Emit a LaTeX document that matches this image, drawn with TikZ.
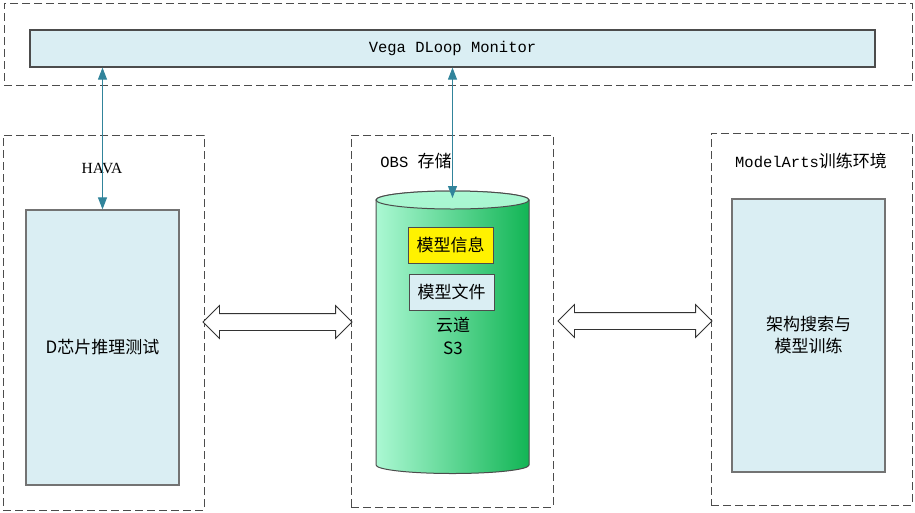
\documentclass[tikz,border=0pt]{standalone}
\usepackage{fontspec}
\newfontfamily\cnfont{Noto Sans CJK SC}
\newfontfamily\monofont{Liberation Mono}
\newfontfamily\serifont{Liberation Serif}
\usetikzlibrary{arrows.meta,shapes.arrows}

\definecolor{boxblue}{HTML}{DAEEF3}
\definecolor{linkteal}{HTML}{31849B}
\definecolor{mintlight}{HTML}{ABF8D3}
\definecolor{mintmid}{HTML}{8EE6B9}
\definecolor{mintdark}{HTML}{12B555}

\tikzstyle{group} = [draw=black!70, dash pattern=on 8pt off 4pt, line width=1pt, inner sep=0pt]
\tikzstyle{panel} = [draw=black!55, fill=boxblue, line width=1.2pt, inner sep=0pt]
\tikzstyle{tag} = [draw=black!70, line width=1pt, inner sep=0pt, minimum width=85pt, minimum height=36pt]

\begin{document}
\begin{tikzpicture}[x=1pt, y=1pt]
  \tikzset{link/.style={linkteal, line width=1pt, {Triangle[length=12pt,width=9pt]}-{Triangle[length=12pt,width=9pt]}},
    flow/.style={double arrow, draw=black!80, fill=white, line width=0.8pt, inner xsep=0pt, inner ysep=8pt,
      double arrow head extend=8pt, double arrow tip angle=90},
    cn/.style={font=\fontsize{17}{22}\cnfont},
    mono/.style={font=\fontsize{15.5}{18}\monofont}}

  \useasboundingbox (0,0) rectangle (915,-512);

  % monitor
  \node (monitorbox) [group, minimum width=908pt, minimum height=82pt] at (458,-44) {};
  \node (monitor) [panel, draw=black!70, minimum width=845pt, minimum height=37pt, mono] at (452.5,-48.5)
    {Vega DLoop Monitor};

  % HAVA
  \node (havabox) [group, minimum width=201pt, minimum height=375pt] at (103.5,-322.5) {};
  \node (hava) [font=\fontsize{15.5}{18}\serifont] at (102,-168) {HAVA};
  \node (chip) [panel, minimum width=153pt, minimum height=275pt, cn] at (102.5,-347.5)
    {D芯片推理测试};

  % OBS
  \node (obsbox) [group, minimum width=202pt, minimum height=372pt] at (452,-321) {};
  \node (obs) [mono] at (416,-161) {OBS {\cnfont\fontsize{17}{20}\selectfont 存储}};
  \shade[left color=mintlight, middle color=mintmid, right color=mintdark, draw=black!70, line width=1pt]
    (376,-200) -- (376,-465) arc[start angle=180, end angle=360, x radius=76.5, y radius=8.5]
    -- (529,-200) arc[start angle=0, end angle=180, x radius=76.5, y radius=9] -- cycle;
  \shade[top color=mintlight, bottom color=mintlight!90!mintmid, draw=black!70, line width=1pt]
    (452.5,-200) ellipse[x radius=76.5, y radius=9];
  \coordinate (cyltop) at (452.5,-198);
  \node (info) [tag, fill=yellow, cn] at (450.5,-245) {模型信息};
  \node (file) [tag, fill=boxblue, cn] at (451.5,-292) {模型文件};
  \node (cloud) [align=center, font=\fontsize{17}{23}\cnfont] at (453,-336) {云道\\S3};

  % ModelArts
  \node (mabox) [group, minimum width=201pt, minimum height=372pt] at (811.5,-319) {};
  \node (ma) [mono] at (811,-161) {ModelArts{\cnfont\fontsize{17}{20}\selectfont 训练环境}};
  \node (train) [panel, minimum width=153pt, minimum height=273pt, align=center, cn] at (808.5,-335.5)
    {架构搜索与\\模型训练};

  % links
  \draw[link] (chip.north |- monitor.south) -- (chip.north);
  \draw[link] (cyltop |- monitor.south) -- (cyltop);
  \node (leftflow) [flow, minimum height=149pt] at (277.5,-322) {};
  \node (rightflow) [flow, minimum height=154pt] at (635,-321) {};
\end{tikzpicture}
\end{document}
